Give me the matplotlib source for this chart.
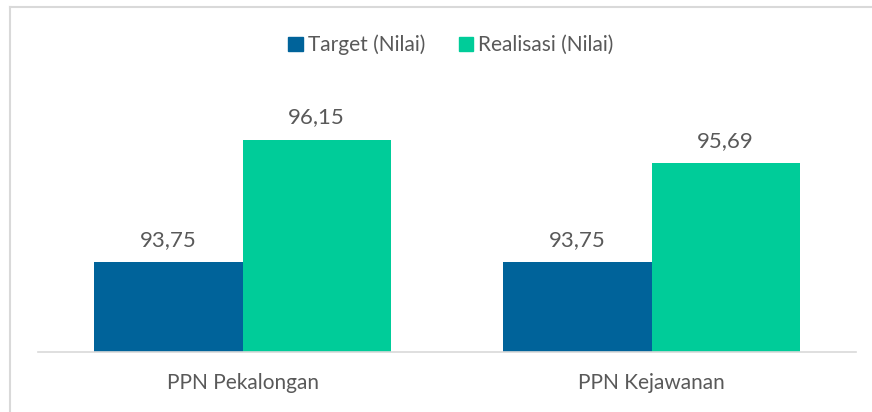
import numpy as np
import matplotlib.pyplot as plt
from matplotlib.lines import Line2D
from matplotlib.patches import Patch

# data
kategori = ['PPN Pekalongan', 'PPN Kejawanan']
target = [93.75, 93.75]
realisasi = [96.15, 95.69]
seri = ['Target (Nilai)', 'Realisasi (Nilai)']

biru = '#00639A'
hijau = '#00CC99'
abu = '#595959'

plt.rcParams['font.family'] = ['Lato', 'DejaVu Sans']

W, H = 872, 412
fig = plt.figure(figsize=(W/100, H/100), dpi=100)
ax = fig.add_axes([38/W, (H-352)/H, (856-38)/W, (352-96)/H])

x = np.arange(len(kategori))
lebar = 0.362
b1 = ax.bar(x - lebar/2, target, lebar, color=biru, label=seri[0])
b2 = ax.bar(x + lebar/2, realisasi, lebar, color=hijau, label=seri[1])

for bars in (b1, b2):
    for b in bars:
        v = b.get_height()
        ax.annotate(f'{v:.2f}'.replace('.', ','), (b.get_x() + b.get_width()/2, v),
                    xytext=(0, 12), textcoords='offset pixels',
                    ha='center', va='bottom', fontsize=16, color=abu)

ax.set_ylim(92, 97)
ax.set_xlim(-0.5, 1.5)
ax.set_xticks(x)
ax.set_xticklabels(kategori, fontsize=15, color=abu)
ax.tick_params(axis='x', length=0, pad=15)
ax.set_yticks([])
for s in ['top', 'right', 'left']:
    ax.spines[s].set_visible(False)
ax.spines['bottom'].set_color('#d9d9d9')
ax.spines['bottom'].set_linewidth(1.2)

handles = [Patch(color=biru), Patch(color=hijau)]
leg = fig.legend(handles, seri, loc='center', bbox_to_anchor=(451/W, (H-45)/H),
                 ncol=2, frameon=False, fontsize=15, handlelength=0.7, handleheight=0.7,
                 handletextpad=0.25, columnspacing=1.6)
for t in leg.get_texts():
    t.set_color(abu)

# bingkai
fig.add_artist(Line2D([9.5/W, 1], [(H-6.5)/H, (H-6.5)/H], color='#d9d9d9', lw=1.5,
                      transform=fig.transFigure))
fig.add_artist(Line2D([9.5/W, 9.5/W], [0, (H-6.5)/H], color='#d9d9d9', lw=1.5,
                      transform=fig.transFigure))

fig.savefig('out.png', dpi=100)
